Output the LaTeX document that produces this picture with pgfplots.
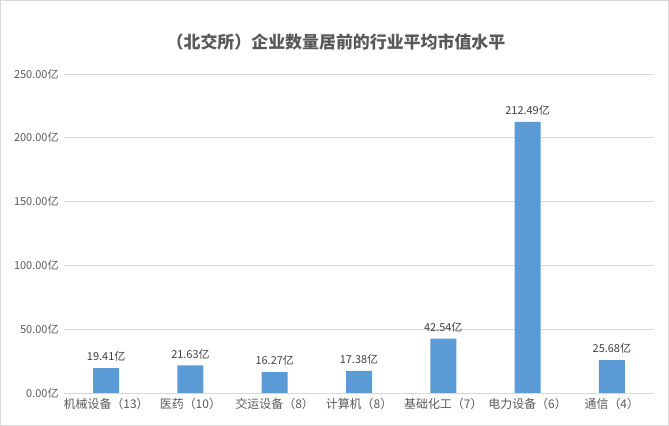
\documentclass[border=0pt]{standalone}
\usepackage{pgfplots}
\pgfplotsset{compat=1.18}
\usepackage{fontspec}
\setmainfont{Noto Sans CJK SC}
\definecolor{barblue}{HTML}{5B9BD5}
\definecolor{gridgray}{HTML}{D9D9D9}
\definecolor{textgray}{HTML}{595959}
\definecolor{labelgray}{HTML}{404040}
\begin{document}
\begin{tikzpicture}
\path[use as bounding box] (0,0) rectangle (669bp,426bp);
\draw[color=gridgray, line width=1bp] (0.5bp,0.5bp) rectangle (668.5bp,425.5bp);
\node[font=\fontsize{17}{20}\selectfont\bfseries, text=textgray] at (336bp,384bp) {（北交所）企业数量居前的行业平均市值水平};
\begin{axis}[
  at={(64bp,33bp)}, anchor=south west,
  scale only axis, width=590bp, height=319bp,
  ybar, bar width=26bp,
  xmin=-0.5, xmax=6.5, ymin=0, ymax=250,
  xtick=data,
  xticklabels={机械设备（13）,医药（10）,交运设备（8）,计算机（8）,基础化工（7）,电力设备（6）,通信（4）},
  ytick={0,50,100,150,200,250},
  yticklabel={\pgfmathprintnumber[fixed,fixed zerofill,precision=2]{\tick}亿},
  /pgf/number format/assume math mode=true,
  ymajorgrids, grid style={gridgray, line width=0.8bp},
  axis x line*=bottom, axis y line*=left,
  x axis line style={gridgray, line width=0.8bp, -},
  y axis line style={draw=none},
  major tick length=0pt,
  tick label style={font=\fontsize{11}{13}\selectfont, text=textgray},
  xticklabel style={font=\fontsize{12}{14}\selectfont, yshift=-2bp},
  yticklabel style={xshift=-2bp},
  nodes near coords={\pgfmathprintnumber[fixed,fixed zerofill,precision=2]{\pgfplotspointmeta}亿},
  nodes near coords style={font=\fontsize{11}{13}\selectfont, text=labelgray, yshift=3bp},
]
\addplot[fill=barblue, draw=none] coordinates {
(0,19.41) (1,21.63) (2,16.27) (3,17.38) (4,42.54) (5,212.49) (6,25.68)};
\end{axis}
\end{tikzpicture}
\end{document}
